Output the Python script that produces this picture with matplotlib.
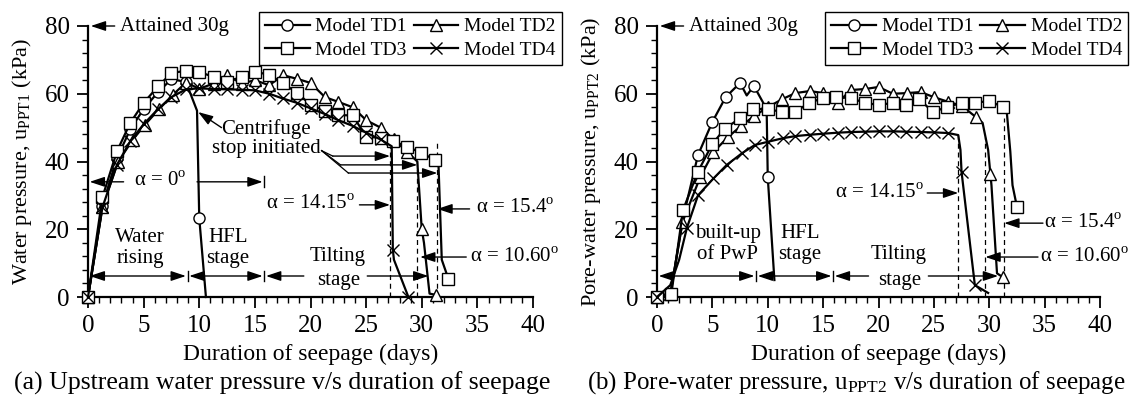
import matplotlib
matplotlib.use("Agg")
import matplotlib.pyplot as plt

plt.rcParams['font.family'] = ['Liberation Serif', 'DejaVu Serif']
plt.rcParams['mathtext.fontset'] = 'stix'

# ---- panel (a): upstream water pressure PPT1 ----
a_td1_x = [0, 1.3, 2.6, 3.8, 5.0, 6.3, 7.5, 8.8, 9.8, 10.0, 10.6]
a_td1_y = [0, 27.0, 41.0, 49.5, 55.5, 60.5, 64.3, 63.5, 55.0, 23.3, 0.0]
a_td1_mk = [0, 1, 2, 3, 4, 5, 6, 7, 9]

a_td2_x = [0, 1.3, 2.7, 4.0, 5.1, 6.4, 7.6, 8.8, 10.0, 11.3, 12.5, 13.8, 15.0, 16.3, 17.5,
           18.8, 20.0, 21.3, 22.5, 23.8, 25.0, 26.3, 27.5, 28.7, 29.6, 30.0, 30.2, 30.7, 31.3]
a_td2_y = [0, 26.5, 39.9, 46.3, 50.8, 55.5, 59.6, 63.3, 61.5, 63.0, 65.5, 63.0, 64.0, 62.5, 65.5,
           64.4, 63.2, 59.0, 57.6, 56.0, 52.2, 50.0, 46.5, 42.8, 40.0, 20.0, 16.0, 1.0, 0.6]
a_td2_mk = [i for i in range(len(a_td2_x)) if i not in (24, 26, 27)]

a_td3_x = [0, 1.3, 2.6, 3.8, 5.0, 6.3, 7.5, 8.8, 10.0, 11.3, 12.5, 13.8, 15.0, 16.3, 17.5,
           18.8, 20.0, 21.3, 22.5, 23.8, 25.0, 26.3, 27.4, 28.7, 29.9, 31.2, 31.5, 31.8, 32.4]
a_td3_y = [0, 29.5, 43.0, 51.4, 57.3, 62.2, 66.1, 66.8, 66.4, 65.0, 63.5, 65.0, 66.5, 65.6, 63.2,
           60.2, 56.8, 55.0, 53.7, 53.6, 47.3, 47.0, 46.0, 44.4, 42.6, 40.5, 39.5, 11.0, 5.3]
a_td3_mk = [i for i in range(len(a_td3_x)) if i not in (26, 27)]

a_td4_x = [0, 1.3, 2.6, 3.8, 5.0, 6.3, 7.5, 8.8, 10.0, 11.3, 12.5, 13.8, 15.0, 16.3, 17.5,
           18.8, 20.0, 21.3, 22.5, 23.8, 25.0, 26.3, 27.3, 27.4, 27.5, 28.8]
a_td4_y = [0, 26.5, 39.0, 46.0, 51.0, 55.5, 59.0, 61.3, 61.6, 61.4, 61.3, 61.2, 61.0, 60.0, 58.6,
           57.3, 55.7, 54.0, 52.2, 50.5, 48.5, 46.5, 44.5, 14.0, 11.0, 0.0]
a_td4_mk = [i for i in range(len(a_td4_x)) if i not in (22, 24)]

# ---- panel (b): pore-water pressure PPT2 ----
b_td1_x = [0, 1.2, 2.4, 3.7, 5.0, 6.2, 7.5, 8.1, 8.75, 9.9, 10.0, 10.6]
b_td1_y = [0, 0.8, 24.0, 41.9, 51.7, 59.0, 63.2, 59.5, 62.3, 55.5, 35.4, 5.0]
b_td1_mk = [0, 1, 3, 4, 5, 6, 8, 9, 10]

b_td2_x = [0, 1.2, 2.3, 3.9, 5.1, 6.4, 7.6, 8.8, 10.0, 11.3, 12.5, 13.8, 15.0, 16.3, 17.5,
           18.8, 20.0, 21.3, 22.6, 23.8, 25.0, 26.3, 27.5, 28.8, 29.4, 29.9, 30.1, 30.2, 30.7, 31.2]
b_td2_y = [0, 0.8, 22.1, 35.4, 42.8, 47.2, 50.5, 53.5, 56.0, 58.4, 60.2, 60.8, 60.2, 57.3, 61.1,
           61.4, 62.0, 60.0, 60.2, 60.5, 59.0, 57.6, 56.5, 53.1, 51.4, 43.4, 36.4, 33.0, 7.0, 5.9]
b_td2_mk = [i for i in range(len(b_td2_x)) if i not in (24, 25, 27, 28)]

b_td3_x = [0, 1.3, 2.35, 3.7, 5.0, 6.1, 7.5, 8.7, 10.0, 11.3, 12.5, 13.7, 15.0, 16.2, 17.5,
           18.8, 20.0, 21.3, 22.5, 23.7, 24.9, 26.2, 27.5, 28.7, 30.0, 31.2, 31.6, 31.9, 32.1, 32.5]
b_td3_y = [0, 1.0, 25.7, 37.0, 45.2, 49.6, 52.8, 55.5, 55.5, 54.6, 54.6, 57.3, 58.7, 59.0, 58.7,
           57.3, 56.7, 57.3, 56.7, 58.4, 54.6, 56.1, 57.3, 57.3, 57.9, 56.1, 54.0, 43.0, 33.0, 26.6]
b_td3_mk = [i for i in range(len(b_td3_x)) if i not in (26, 27, 28)]

b_td4_x = [0, 1.2, 2.0, 2.7, 3.7, 5.1, 6.3, 7.7, 8.85, 10.0, 11.4, 12.5, 13.8, 15.0, 16.3, 17.5,
           18.8, 20.0, 21.3, 22.5, 23.8, 25.0, 26.3, 27.2, 27.4, 27.5, 28.7, 29.9]
b_td4_y = [0, 3.5, 11.0, 20.4, 30.0, 35.0, 39.0, 42.5, 44.9, 45.8, 46.9, 47.5, 47.9, 48.2, 48.5,
           48.7, 48.8, 48.9, 48.9, 48.8, 48.7, 48.6, 48.4, 47.8, 43.4, 36.9, 3.5, 1.2]
b_td4_mk = [i for i in range(len(b_td4_x)) if i not in (1, 2, 23, 24, 27)]

labels = ['Model TD1', 'Model TD2', 'Model TD3', 'Model TD4']
markers = ['o', '^', 's', 'x']
msizes = [8, 9, 8.5, 9]

W, H = 1130, 396
fig = plt.figure(figsize=(W / 100, H / 100), dpi=100)
ax1 = fig.add_axes([88 / W, 1 - 297 / H, 445 / W, 271 / H])
ax2 = fig.add_axes([657 / W, 1 - 297 / H, 443 / W, 271 / H])

FS = 15


def draw_series(ax, series):
    handles = []
    for (x, y, mk), lab, m, ms in zip(series, labels, markers, msizes):
        h, = ax.plot(x, y, color='black', lw=1.6, marker=m, markevery=mk, ms=ms,
                     mfc='white', mec='black', mew=1.0, clip_on=False, zorder=3, label=lab)
        handles.append(h)
    return handles


def style_axes(ax, ylabel):
    ax.set_xlim(0, 40)
    ax.set_ylim(0, 80)
    ax.spines['top'].set_visible(False)
    ax.spines['right'].set_visible(False)
    ax.spines['left'].set_linewidth(1.6)
    ax.spines['bottom'].set_linewidth(1.6)
    ax.set_xticks(range(0, 41, 5))
    ax.set_xticks(range(0, 41, 1), minor=True)
    ax.set_yticks(range(0, 81, 20))
    ax.set_yticks(range(0, 81, 4), minor=True)
    ax.tick_params(which='major', direction='out', length=8, width=1.3, labelsize=18, pad=5)
    ax.tick_params(which='minor', direction='out', length=4.5, width=1.0)
    ax.set_xlabel('Duration of seepage (days)', fontsize=17)
    ax.xaxis.set_label_coords(0.5, -0.21)
    ax.xaxis.label.set_va('center')
    ax.set_ylabel(ylabel, fontsize=16)
    ax.yaxis.set_label_coords(-0.148, 0.5)
    ax.yaxis.label.set_va('center')


def arrow(ax, tail, tip):
    ax.annotate('', xy=tip, xytext=tail,
                arrowprops=dict(arrowstyle='-|>,head_length=0.6,head_width=0.2',
                                color='black', lw=1.0, shrinkA=0, shrinkB=0,
                                mutation_scale=15))


def darrow(ax, x0, x1, y):
    ax.annotate('', xy=(x1, y), xytext=(x0, y),
                arrowprops=dict(arrowstyle='<|-|>,head_length=0.6,head_width=0.2',
                                color='black', lw=1.0, shrinkA=0, shrinkB=0,
                                mutation_scale=15))


def bar(ax, x, y):
    ax.plot([x, x], [y - 1.6, y + 1.6], color='black', lw=1.0)


def common_notes(ax):
    arrow(ax, (2.4, 80), (0.25, 80))
    ax.text(2.9, 80, 'Attained 30g', fontsize=FS, va='center', ha='left')


deg = '$^{\\mathregular{o}}$'

# ---------- panel (a) ----------
h = draw_series(ax1, [(a_td1_x, a_td1_y, a_td1_mk), (a_td2_x, a_td2_y, a_td2_mk),
                      (a_td3_x, a_td3_y, a_td3_mk), (a_td4_x, a_td4_y, a_td4_mk)])
style_axes(ax1, 'Water pressure, u$_\\mathregular{PPT1}$ (kPa)')
common_notes(ax1)

ax1.text(6.5, 34, 'α = 0' + deg, fontsize=FS, ha='center', va='center')
arrow(ax1, (3.2, 34), (0.15, 34))
arrow(ax1, (9.8, 34), (15.7, 34))
bar(ax1, 15.8, 34)

yarr = 6.2
darrow(ax1, 0.15, 8.8, yarr)
bar(ax1, 8.95, yarr)
darrow(ax1, 9.1, 15.7, yarr)
bar(ax1, 15.85, yarr)
arrow(ax1, (19.4, yarr), (16.0, yarr))
arrow(ax1, (25.1, yarr), (30.6, yarr))
ax1.text(4.7, 14.5, 'Water\nrising', fontsize=FS, ha='center', va='center', linespacing=1.1)
ax1.text(12.6, 14.5, 'HFL\nstage', fontsize=FS, ha='center', va='center', linespacing=1.1)
ax1.text(22.4, 12.1, 'Tilting', fontsize=FS, ha='center', va='center')
ax1.text(22.5, 5.0, 'stage', fontsize=FS, ha='center', va='center')

ax1.text(16.0, 46.8, 'Centrifuge\nstop initiated', fontsize=FS, ha='center', va='center',
         linespacing=1.05)
arrow(ax1, (12.0, 50.0), (9.9, 54.6))
for (xs, ys), (xe, ye) in [((22.0, 41.6), (27.15, 41.6)), ((22.7, 39.0), (29.6, 39.0)),
                           ((23.4, 36.6), (31.4, 36.6))]:
    ax1.plot([21.0, xs], [43.2, ys], color='black', lw=0.9)
    arrow(ax1, (xs, ys), (xe, ye))

for xd, ytop in [(27.15, 46.3), (29.6, 41.3), (31.4, 45.5)]:
    ax1.plot([xd, xd], [0, ytop], color='black', lw=0.9, ls=(0, (4, 3)), zorder=2)

ax1.text(20.0, 27.2, 'α = 14.15' + deg, fontsize=FS, ha='center', va='center')
arrow(ax1, (24.4, 27.2), (27.15, 27.2))
ax1.text(38.4, 26.0, 'α = 15.4' + deg, fontsize=FS, ha='center', va='center')
arrow(ax1, (34.3, 26.0), (31.4, 26.0))
ax1.text(38.3, 11.8, 'α = 10.60' + deg, fontsize=FS, ha='center', va='center')
arrow(ax1, (34.0, 11.8), (29.85, 11.8))

# ---------- panel (b) ----------
draw_series(ax2, [(b_td1_x, b_td1_y, b_td1_mk), (b_td2_x, b_td2_y, b_td2_mk),
                  (b_td3_x, b_td3_y, b_td3_mk), (b_td4_x, b_td4_y, b_td4_mk)])
style_axes(ax2, 'Pore-water pressure, u$_\\mathregular{PPT2}$ (kPa)')
common_notes(ax2)

darrow(ax2, 0.15, 8.8, yarr)
bar(ax2, 8.95, yarr)
darrow(ax2, 9.1, 15.75, yarr)
bar(ax2, 15.9, yarr)
arrow(ax2, (19.1, yarr), (16.05, yarr))
arrow(ax2, (24.5, yarr), (30.8, yarr))
ax2.text(6.4, 15.7, 'built-up\nof PwP', fontsize=FS, ha='center', va='center', linespacing=1.1)
ax2.text(12.9, 15.7, 'HFL\nstage', fontsize=FS, ha='center', va='center', linespacing=1.1)
ax2.text(21.8, 12.4, 'Tilting', fontsize=FS, ha='center', va='center')
ax2.text(21.9, 5.0, 'stage', fontsize=FS, ha='center', va='center')

for xd, ytop in [(27.2, 47.8), (29.6, 47.2), (31.3, 52.8)]:
    ax2.plot([xd, xd], [0, ytop], color='black', lw=0.9, ls=(0, (4, 3)), zorder=2)

ax2.text(20.1, 30.7, 'α = 14.15' + deg, fontsize=FS, ha='center', va='center')
arrow(ax2, (24.4, 30.7), (27.2, 30.7))
ax2.text(38.5, 21.8, 'α = 15.4' + deg, fontsize=FS, ha='center', va='center')
arrow(ax2, (34.85, 21.8), (31.35, 21.8))
ax2.text(38.6, 11.8, 'α = 10.60' + deg, fontsize=FS, ha='center', va='center')
arrow(ax2, (34.4, 11.8), (29.65, 11.8))

# legends (column-wise fill -> TD1, TD3 | TD2, TD4)
order = [0, 2, 1, 3]
for loc, xl in (('upper left', 259), ('upper right', 1128)):
    leg = fig.legend(handles=[h[i] for i in order], labels=[labels[i] for i in order],
                     ncol=2, loc=loc, bbox_to_anchor=(xl / W, 1 - 12 / H),
                     bbox_transform=fig.transFigure, fontsize=14, frameon=True,
                     fancybox=False, edgecolor='black', framealpha=1, handlelength=2.3,
                     columnspacing=0.35, handletextpad=0.3, borderpad=0.3,
                     labelspacing=0.3, borderaxespad=0)
    leg.get_frame().set_linewidth(1.0)

fig.text(282 / W, 1 - 383 / H, '(a) Upstream water pressure v/s duration of seepage',
         fontsize=18.5, ha='center', va='center')
fig.text(856 / W, 1 - 383 / H,
         '(b) Pore-water pressure, u$_\\mathregular{PPT2}$ v/s duration of seepage',
         fontsize=18, ha='center', va='center')

fig.savefig('out.png', dpi=100)
